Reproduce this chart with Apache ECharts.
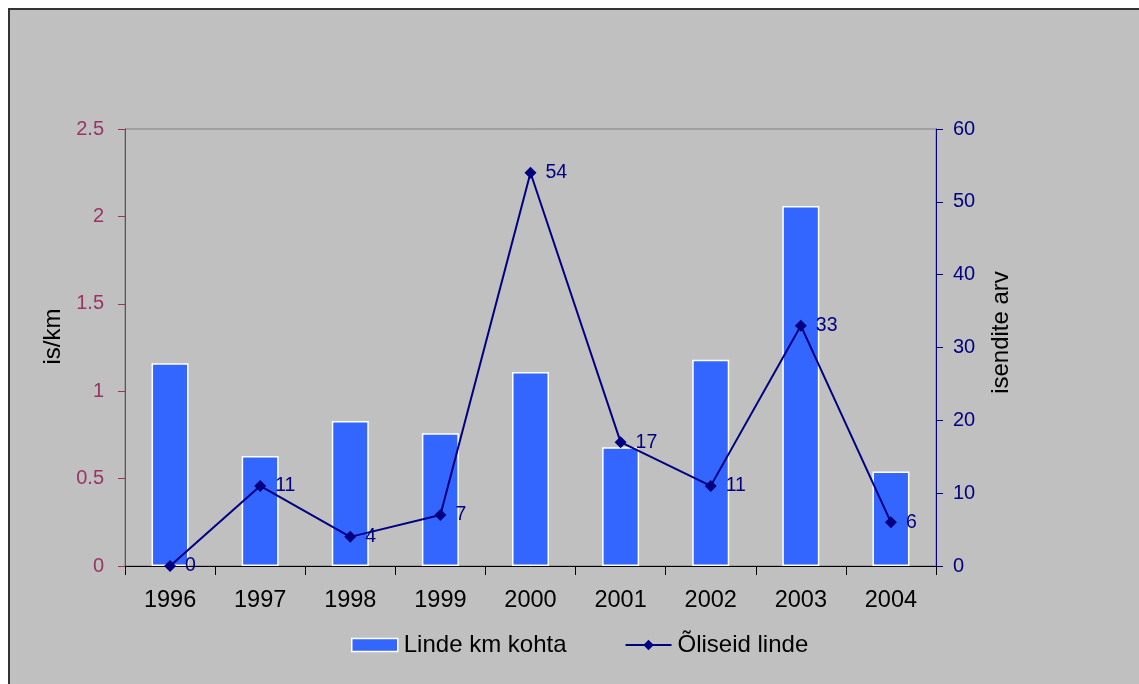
<!DOCTYPE html>
<html><head><meta charset="utf-8">
<script src="https://cdn.jsdelivr.net/npm/echarts@6/dist/echarts.min.js"></script>
<style>html,body{margin:0;padding:0;background:#fff;}#c{width:1139px;height:684px;}</style>
</head><body><div id="c"></div>
<script>
const years = ['1996','1997','1998','1999','2000','2001','2002','2003','2004'];
const lindeKmKohta = [1.16, 0.63, 0.83, 0.76, 1.11, 0.68, 1.18, 2.06, 0.54];
const oliseidLinde = [0, 11, 4, 7, 54, 17, 11, 33, 6];
const leftTicks = [0, 2.5, 0.5];
const rightTicks = [0, 60, 10];

const font = 'Liberation Sans, Arial, sans-serif';
const chart = echarts.init(document.getElementById('c'));
chart.setOption({
  backgroundColor: '#ffffff',
  animation: false,
  graphic: [{
    type: 'rect', z: -10, silent: true,
    shape: { x: 9, y: 9, width: 1140, height: 690 },
    style: { fill: '#c0c0c0', stroke: '#333333', lineWidth: 2 }
  }],
  grid: { left: 125, right: 203, top: 129, bottom: 118, show: true, borderColor: '#808080', borderWidth: 1, backgroundColor: 'transparent' },
  legend: {
    left: 346, top: 628, itemGap: 58, itemWidth: 46, itemHeight: 13,
    textStyle: { fontFamily: font, fontSize: 24, color: '#000', padding: [0, 0, 0, 1] },
    data: [
      { name: 'Linde km kohta', icon: 'rect', itemStyle: { color: '#3366ff', borderColor: '#fff', borderWidth: 1.5 } },
      { name: 'Õliseid linde' }
    ]
  },
  xAxis: {
    type: 'category', data: years, boundaryGap: true,
    axisLine: { lineStyle: { color: '#000', width: 1 } },
    axisTick: { show: true, length: 9, lineStyle: { color: '#000' } },
    axisLabel: { color: '#000', fontFamily: font, fontSize: 23.5, margin: 23 }
  },
  yAxis: [{
    type: 'value', position: 'left', min: leftTicks[0], max: leftTicks[1], interval: leftTicks[2],
    name: 'is/km', nameLocation: 'middle', nameGap: 48, nameRotate: 90,
    nameTextStyle: { color: '#000', fontFamily: font, fontSize: 24, padding: [0, 0, 0, 22] },
    axisLine: { show: true, lineStyle: { color: '#993366' } },
    axisTick: { show: true, length: 7, lineStyle: { color: '#993366' } },
    axisLabel: { color: '#993366', fontFamily: font, fontSize: 20, margin: 21 },
    splitLine: { show: false }
  }, {
    type: 'value', position: 'right', min: rightTicks[0], max: rightTicks[1], interval: rightTicks[2],
    name: 'isendite arv', nameLocation: 'middle', nameGap: 53, nameRotate: 90,
    nameTextStyle: { color: '#000', fontFamily: font, fontSize: 24, padding: [0, 0, 0, 30] },
    axisLine: { show: true, lineStyle: { color: '#000080' } },
    axisTick: { show: true, length: 7, lineStyle: { color: '#000080' } },
    axisLabel: { color: '#000080', fontFamily: font, fontSize: 20, margin: 17 },
    splitLine: { show: false }
  }],
  series: [{
    name: 'Linde km kohta', type: 'bar', yAxisIndex: 0, data: lindeKmKohta,
    barWidth: 37,
    itemStyle: { color: '#3366ff', borderColor: '#ffffff', borderWidth: 1.5 }
  }, {
    name: 'Õliseid linde', type: 'line', yAxisIndex: 1, data: oliseidLinde,
    symbol: 'diamond', symbolSize: 12,
    lineStyle: { color: '#000080', width: 2 },
    itemStyle: { color: '#000080' },
    label: { show: true, position: 'right', distance: 9, color: '#000080', fontFamily: font, fontSize: 19.5 }
  }]
});
</script></body></html>
